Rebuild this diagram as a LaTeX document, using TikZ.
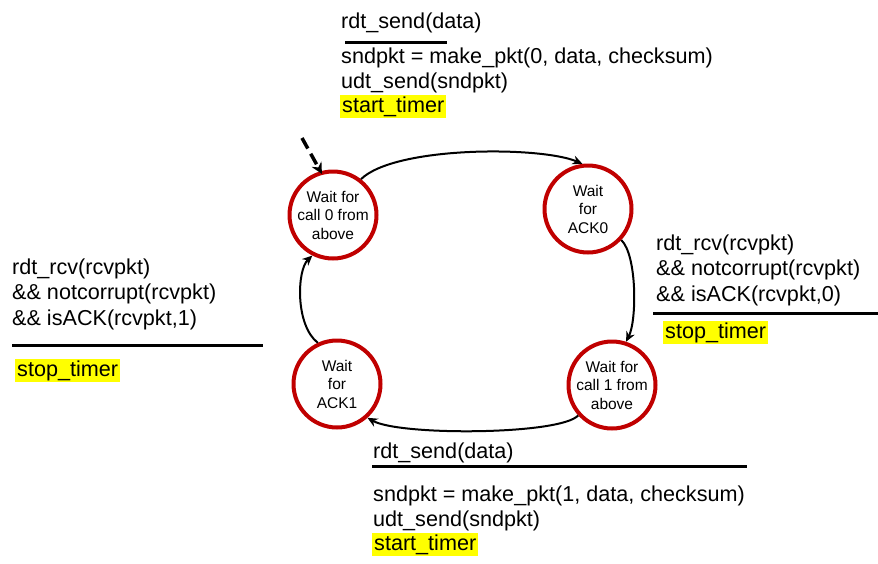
\documentclass[tikz,border=0pt]{standalone}
\usepackage{fontspec}
\setmainfont{Liberation Sans}
\usetikzlibrary{arrows.meta}
\definecolor{stred}{RGB}{192,0,0}
\definecolor{hly}{RGB}{255,255,0}
\begin{document}
\begin{tikzpicture}[x=1pt,y=-1pt,
  state/.style={circle,draw=stred,line width=4pt,minimum size=87pt,inner sep=0pt,align=center,font=\fontsize{15.5}{18.5}\selectfont},
  lbl/.style={anchor=base west,inner sep=0pt,font=\fontsize{21.6}{26}\selectfont},
  hlt/.style={lbl,fill=hly,inner xsep=2pt,inner ysep=0.5pt,text height=17pt,text depth=5.5pt},
  arr/.style={line width=2pt,-{Stealth[length=10pt,width=9pt]}},
  initarr/.style={line width=3.5pt,dash pattern=on 12pt off 6pt,shorten >=-3pt,-{Stealth[length=11pt,width=11pt]}},
  rulel/.style={line width=3pt}]
\useasboundingbox (0,0) rectangle (878,563);

% states
\node[state] (s0) at (333,215) {Wait for\\call 0 from\\above};
\node[state] (s1) at (588,209) {Wait\\for\\ACK0};
\node[state] (s2) at (612,385) {Wait for\\call 1 from\\above};
\node[state] (s3) at (337,384) {Wait\\for\\ACK1};

% initial arrow
\coordinate (init) at (302,138);
\draw[initarr] (init) -- (s0.106);

% transitions
\draw[arr] (s0.52) .. controls (395,146) and (540,146) .. (s1.97);
\draw[arr] (s1.-43) .. controls (637,255) and (637,320) .. (s2.72);
\draw[arr] (s2.222) .. controls (560,435) and (400,436) .. (s3.-48);
\draw[arr] (s3.115) .. controls (295,325) and (297,270) .. (s0.243);

% top label
\node[lbl] (t1) at (341,28) {rdt\_send(data)};
\draw[rulel] (345,42) -- (447,42);
\node[lbl] (t2) at (341,63) {sndpkt = make\_pkt(0, data, checksum)};
\node[lbl] (t3) at (341,88) {udt\_send(sndpkt)};
\node[hlt] (t4) at (340,112) {start\_timer};

% right label
\node[lbl] (r1) at (656,250) {rdt\_rcv(rcvpkt)};
\node[lbl] (r2) at (656,275) {\&\& notcorrupt(rcvpkt)};
\node[lbl] (r3) at (656,301) {\&\& isACK(rcvpkt,0)};
\draw[rulel] (653,313) -- (878,313);
\node[hlt] (r4) at (663,338) {stop\_timer};

% left label
\node[lbl] (l1) at (12,274) {rdt\_rcv(rcvpkt)};
\node[lbl] (l2) at (12,299) {\&\& notcorrupt(rcvpkt)};
\node[lbl] (l3) at (12,325) {\&\& isACK(rcvpkt,1)};
\draw[rulel] (12,345) -- (263,345);
\node[hlt] (l4) at (15,376) {stop\_timer};

% bottom label
\node[lbl] (b1) at (373,458) {rdt\_send(data)};
\draw[rulel] (372,466) -- (747,466);
\node[lbl] (b2) at (373,501) {sndpkt = make\_pkt(1, data, checksum)};
\node[lbl] (b3) at (373,526) {udt\_send(sndpkt)};
\node[hlt] (b4) at (372,550) {start\_timer};
\end{tikzpicture}
\end{document}
